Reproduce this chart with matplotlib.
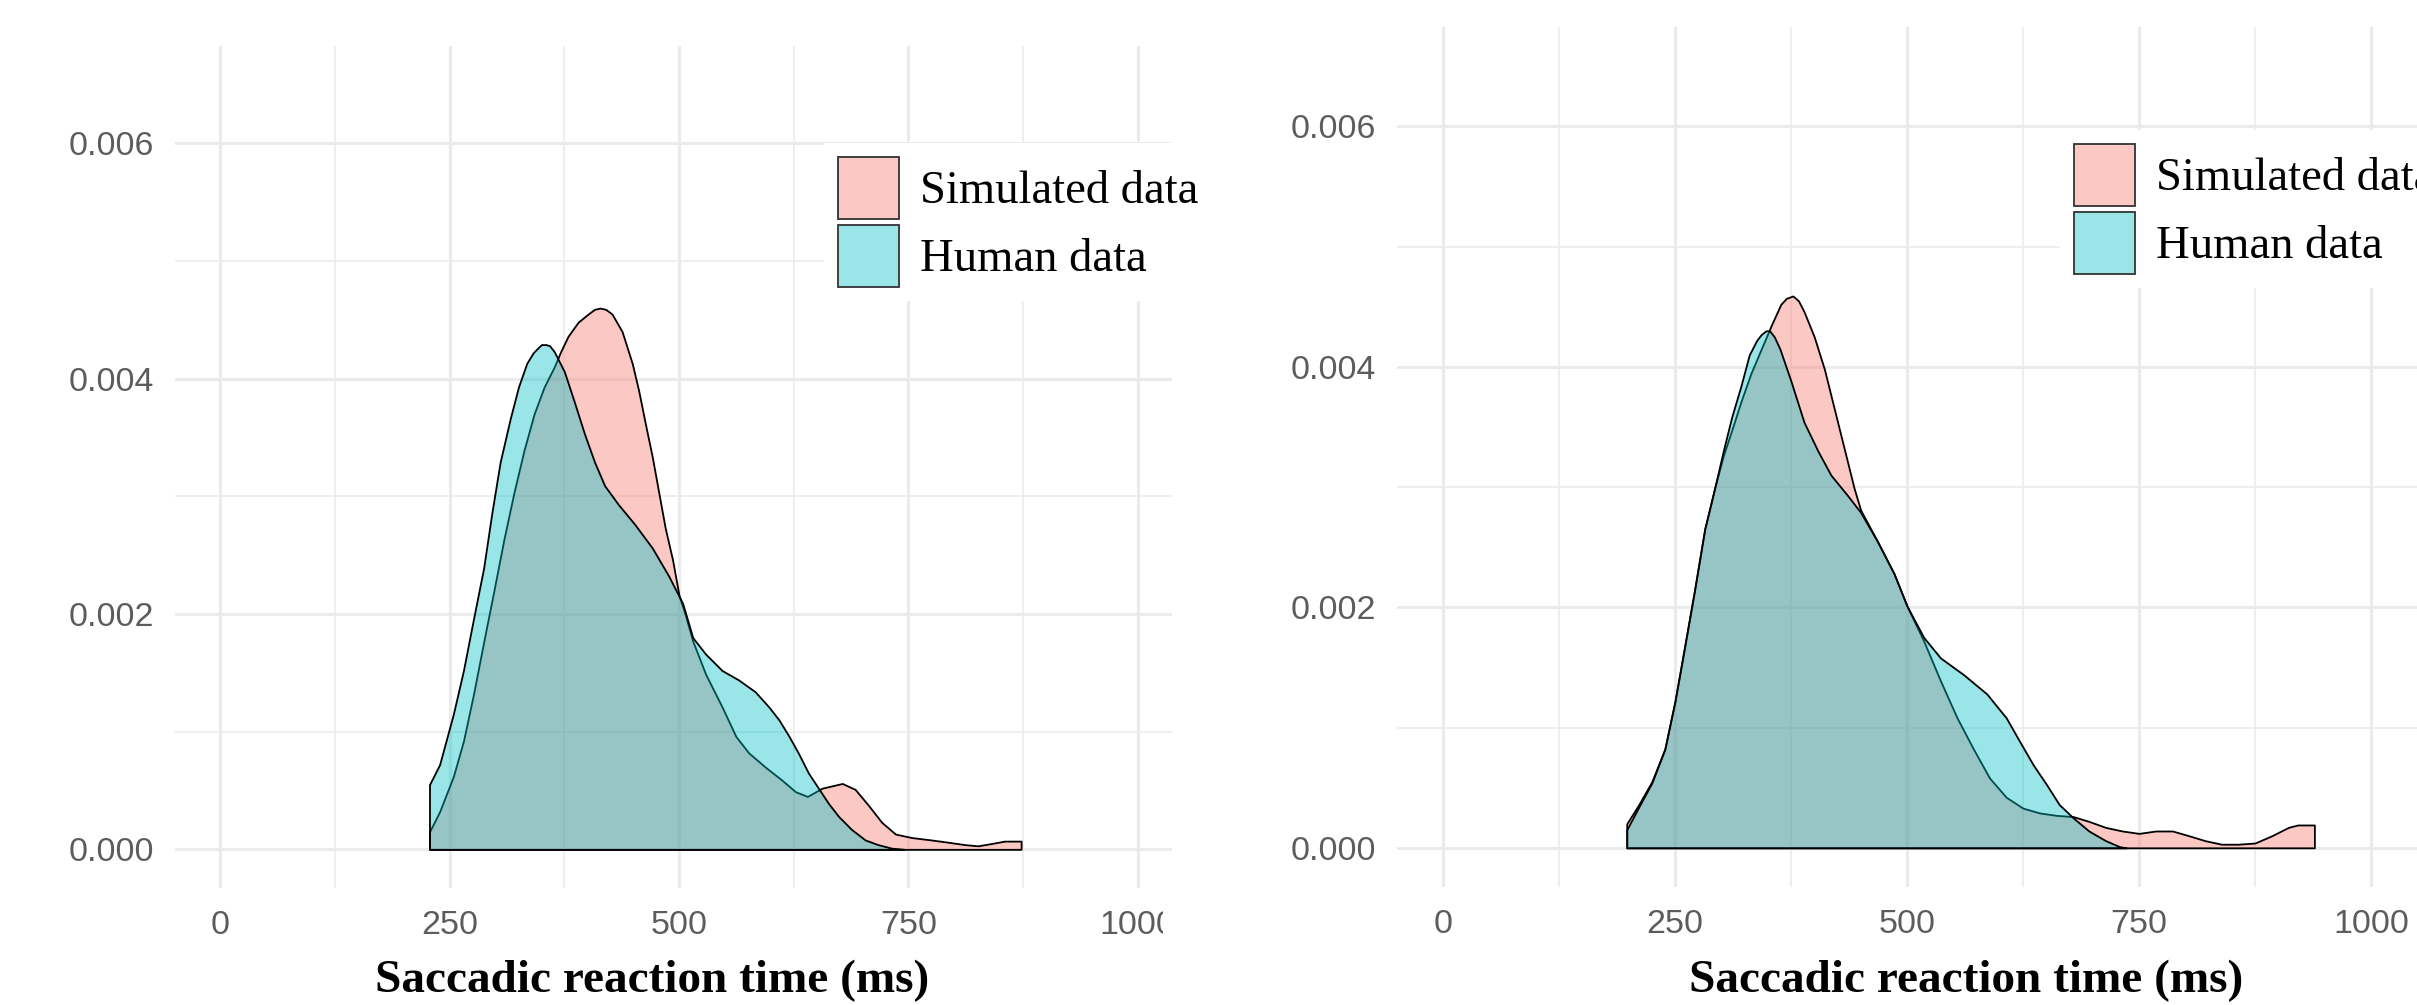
import matplotlib
matplotlib.use("Agg")
import matplotlib.pyplot as plt
from matplotlib.colors import to_rgba
from matplotlib.patches import Rectangle
from matplotlib.ticker import MultipleLocator

# density curves (reaction time in ms, density)
left_sim_x = [228, 239, 254, 265, 276, 287, 298, 309, 320, 331, 342, 353, 364, 371,
              379, 390, 401, 408, 414, 420, 427, 438, 449, 456, 463, 471, 478, 485,
              493, 500, 507, 515, 529, 547, 562, 576, 594, 612, 627, 640, 656, 678,
              692, 707, 721, 736, 754, 775, 794, 812, 826, 841, 855, 873]
left_sim_y = [0.00015, 0.00032, 0.00062, 0.00092, 0.00132, 0.00176, 0.00219, 0.00263,
              0.00303, 0.00339, 0.00370, 0.00393, 0.00410, 0.00423, 0.00436, 0.00448,
              0.00455, 0.00459, 0.00460, 0.00459, 0.00455, 0.00440, 0.00413, 0.00390,
              0.00363, 0.00333, 0.00303, 0.00273, 0.00246, 0.00216, 0.00199, 0.00177,
              0.00149, 0.00121, 0.00096, 0.00082, 0.00070, 0.00059, 0.00049, 0.00045,
              0.00052, 0.00056, 0.00051, 0.00037, 0.00023, 0.00013, 0.00010, 0.00008,
              0.00006, 0.00004, 0.00003, 0.00005, 0.00007, 0.00007]

left_human_x = [228, 239, 254, 265, 276, 287, 296, 305, 316, 325, 334, 341, 346, 350,
                355, 359, 364, 375, 386, 397, 408, 419, 434, 452, 471, 489, 504, 515,
                529, 547, 565, 583, 598, 609, 620, 630, 641, 652, 663, 674, 688, 703,
                717, 732, 746]
left_human_y = [0.00055, 0.00072, 0.00115, 0.00152, 0.00196, 0.00239, 0.00286, 0.00329,
                0.00366, 0.00393, 0.00413, 0.00422, 0.00426, 0.00429, 0.00429, 0.00428,
                0.00423, 0.00406, 0.00380, 0.00353, 0.00329, 0.00309, 0.00293, 0.00276,
                0.00256, 0.00232, 0.00209, 0.00180, 0.00166, 0.00152, 0.00144, 0.00134,
                0.00121, 0.00110, 0.00096, 0.00082, 0.00065, 0.00052, 0.00039, 0.00028,
                0.00017, 0.00008, 0.00004, 0.00001, 0.00000]

right_sim_x = [198, 211, 225, 239, 250, 261, 271, 282, 293, 302, 311, 321, 332, 343,
               354, 364, 370, 377, 383, 389, 400, 411, 421, 432, 443, 450, 468, 486,
               500, 518, 536, 554, 571, 589, 607, 625, 643, 661, 679, 696, 714, 732,
               750, 768, 786, 804, 821, 839, 857, 875, 893, 911, 921, 936, 939]
right_sim_y = [0.00020, 0.00036, 0.00055, 0.00082, 0.00122, 0.00170, 0.00214, 0.00265,
               0.00300, 0.00326, 0.00347, 0.00371, 0.00395, 0.00415, 0.00435, 0.00452,
               0.00457, 0.00459, 0.00455, 0.00446, 0.00425, 0.00398, 0.00367, 0.00333,
               0.00299, 0.00281, 0.00255, 0.00228, 0.00201, 0.00172, 0.00139, 0.00108,
               0.00083, 0.00058, 0.00042, 0.00033, 0.00029, 0.00027, 0.00026, 0.00022,
               0.00017, 0.00014, 0.00012, 0.00014, 0.00014, 0.00010, 0.00006, 0.00003,
               0.00003, 0.00004, 0.00010, 0.00017, 0.00019, 0.00019, 0.00019]

right_human_x = [198, 211, 225, 239, 250, 261, 271, 282, 293, 302, 311, 321, 330, 338,
                 343, 348, 352, 357, 363, 375, 389, 404, 418, 436, 450, 468, 486, 500,
                 518, 536, 561, 586, 607, 621, 636, 650, 664, 679, 696, 714, 729, 736]
right_human_y = [0.00015, 0.00034, 0.00054, 0.00082, 0.00122, 0.00170, 0.00214, 0.00265,
                 0.00300, 0.00330, 0.00358, 0.00384, 0.00410, 0.00422, 0.00427, 0.00430,
                 0.00430, 0.00425, 0.00415, 0.00388, 0.00354, 0.00330, 0.00310, 0.00293,
                 0.00279, 0.00255, 0.00228, 0.00201, 0.00175, 0.00158, 0.00144, 0.00128,
                 0.00108, 0.00089, 0.00069, 0.00053, 0.00036, 0.00025, 0.00014, 0.00006,
                 0.00001, 0.00000]

labels = ["Simulated data", "Human data"]
x_ticks = [0, 250, 500, 750, 1000]
y_ticks = [0.000, 0.002, 0.004, 0.006]
x_label = "Saccadic reaction time (ms)"

W, H = 2417, 1005
PINK = "#F8766D"
CYAN = "#00BFC4"
GRID = "#ebebeb"
TICK_COLOR = "#5c5c5c"

fig = plt.figure(figsize=(W / 100, H / 100), dpi=100)


def add_axes_px(x0, y0, x1, y1):
    # pixel box (top-left origin) -> figure fraction
    return fig.add_axes([x0 / W, 1 - y1 / H, (x1 - x0) / W, (y1 - y0) / H])


def style_axes(ax, xmax):
    ax.set_xlim(-50, xmax)
    ax.set_ylim(-0.000325, 0.006825)
    ax.set_xticks(x_ticks)
    ax.set_xticklabels([str(v) for v in x_ticks])
    ax.set_yticks(y_ticks)
    ax.set_yticklabels([f"{v:.3f}" for v in y_ticks])
    ax.xaxis.set_minor_locator(MultipleLocator(125))
    ax.yaxis.set_minor_locator(MultipleLocator(0.001))
    ax.grid(which="major", color=GRID, linewidth=2.2)
    ax.grid(which="minor", color=GRID, linewidth=1.2)
    ax.set_axisbelow(True)
    for s in ax.spines.values():
        s.set_visible(False)
    ax.tick_params(which="both", length=0)
    ax.tick_params(axis="y", pad=14.5, labelsize=24.5, labelcolor=TICK_COLOR)
    ax.tick_params(axis="x", pad=16, labelsize=24.5, labelcolor=TICK_COLOR)
    for t in ax.get_xticklabels() + ax.get_yticklabels():
        t.set_fontfamily("Liberation Sans")


def draw_panel(ax, sim_x, sim_y, hum_x, hum_y):
    h1 = ax.fill_between(sim_x, sim_y, facecolor=to_rgba(PINK, 0.4),
                         edgecolor="black", linewidth=1.3)
    h2 = ax.fill_between(hum_x, hum_y, facecolor=to_rgba(CYAN, 0.4),
                         edgecolor="black", linewidth=1.3)
    return [h1, h2]


def add_legend(ax, handles, x_px, y_px):
    pad = 0.3
    fs = 46.7  # px
    leg = ax.legend(handles, labels, loc="upper left",
                    bbox_to_anchor=((x_px - pad * fs) / W, 1 - (y_px - pad * fs) / H),
                    bbox_transform=fig.transFigure,
                    prop={"family": "Liberation Serif", "size": 33.6},
                    handlelength=1.31, handleheight=1.67, labelspacing=0.13,
                    handletextpad=0.45, borderpad=pad, borderaxespad=0,
                    frameon=True, fancybox=False, framealpha=1)
    leg.get_frame().set_facecolor("white")
    leg.get_frame().set_edgecolor("none")
    leg.set_clip_on(False)
    for p in leg.legend_handles:
        p.set_edgecolor("#333333")
        p.set_linewidth(1.3)
    return leg


# left panel, cropped on its right side like the source figure
ax1 = add_axes_px(174.5, 46.3, 1172, 887.6)
style_axes(ax1, 1037.5)
h = draw_panel(ax1, left_sim_x, left_sim_y, left_human_x, left_human_y)
add_legend(ax1, h, 838, 157)

# right panel
ax2 = add_axes_px(1396.6, 27.2, 2417.4, 886.9)
style_axes(ax2, 1050)
h = draw_panel(ax2, right_sim_x, right_sim_y, right_human_x, right_human_y)
add_legend(ax2, h, 2074, 144)

# the source image cuts the left panel's last tick label
fig.patches.append(Rectangle((1163 / W, 1 - 955 / H), 110 / W, 60 / H,
                             transform=fig.transFigure, facecolor="white",
                             edgecolor="none", zorder=10))

for cx in (652, 1966):
    fig.text(cx / W, 1 - 981 / H, x_label, ha="center", va="center",
             family="Liberation Serif", fontweight="bold", size=34)

fig.savefig("out.png", dpi=100, facecolor="white")
